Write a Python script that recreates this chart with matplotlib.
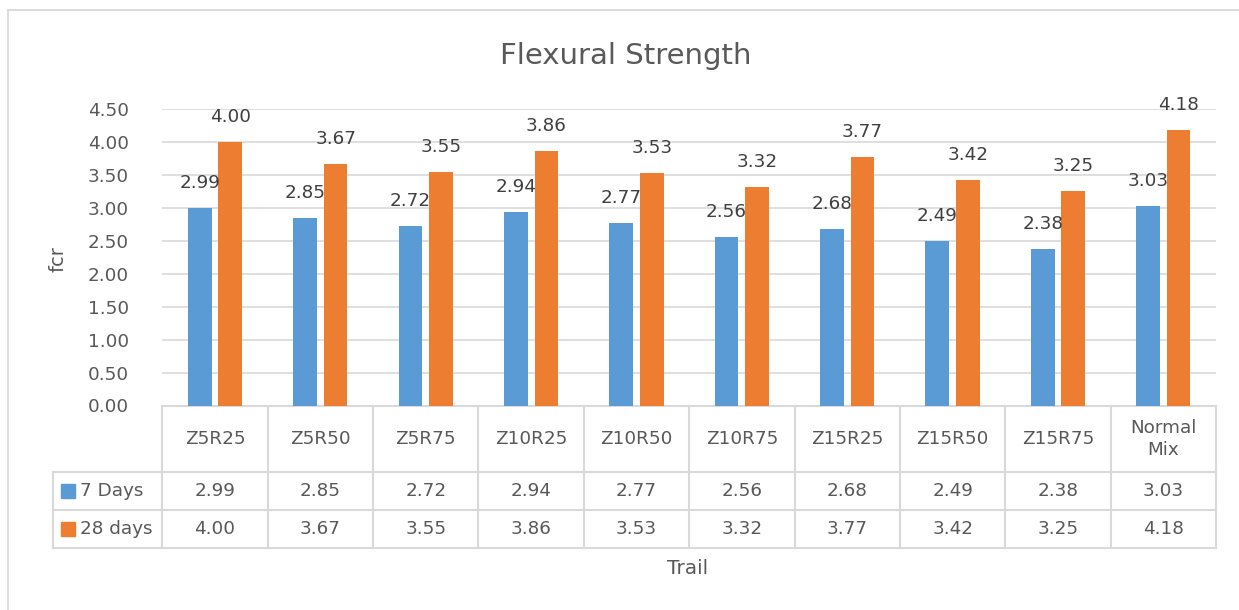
import matplotlib
matplotlib.use("Agg")
from matplotlib import pyplot as plt
from matplotlib import transforms
from matplotlib.lines import Line2D
import numpy as np

plt.rcParams['font.family'] = ['DejaVu Sans']

trails = ["Z5R25", "Z5R50", "Z5R75", "Z10R25", "Z10R50", "Z10R75",
          "Z15R25", "Z15R50", "Z15R75", "Normal\nMix"]
days7 = [2.99, 2.85, 2.72, 2.94, 2.77, 2.56, 2.68, 2.49, 2.38, 3.03]
days28 = [4.00, 3.67, 3.55, 3.86, 3.53, 3.32, 3.77, 3.42, 3.25, 4.18]
series_names = ["7 Days", "28 days"]
yticks = [0, 0.5, 1, 1.5, 2, 2.5, 3, 3.5, 4, 4.5]

blue = "#5B9BD5"
orange = "#ED7D31"
txt = "#595959"
lbl = "#404040"
grid = "#D9D9D9"
fs = 13.2

W, H = 1239, 610
fig = plt.figure(figsize=(W / 100, H / 100), dpi=100)

# chart frame, only its left and top edge are inside the crop
fig.lines.append(Line2D([8 / W, 8 / W], [0, 1 - 10 / H], transform=fig.transFigure, color=grid, lw=1.3))
fig.lines.append(Line2D([8 / W, 1], [1 - 10 / H, 1 - 10 / H], transform=fig.transFigure, color=grid, lw=1.3))

left, right, top, bottom = 162.3, 1216, 109, 405.5
ax = fig.add_axes([left / W, 1 - bottom / H, (right - left) / W, (bottom - top) / H])

x = np.arange(len(trails))
w = 0.225
off = 0.145
ax.bar(x - off, days7, w, color=blue, zorder=3)
ax.bar(x + off, days28, w, color=orange, zorder=3)

for xi, v in zip(x - off, days7):
    ax.annotate(f"{v:.2f}", (xi, v), xytext=(0, 18), textcoords="offset points",
                ha="center", va="center", fontsize=fs, color=lbl, zorder=4)
for xi, v in zip(x + off, days28):
    ax.annotate(f"{v:.2f}", (xi, v), xytext=(0, 18), textcoords="offset points",
                ha="center", va="center", fontsize=fs, color=lbl, zorder=4)

ax.set_xlim(-0.5, len(trails) - 0.5)
ax.set_ylim(0, 4.5)
ax.set_yticks(yticks)
ax.set_yticklabels([f"{t:.2f}" for t in yticks])
ax.tick_params(axis="y", length=0, pad=24, labelsize=fs, labelcolor=txt)
ax.set_xticks([])
ax.yaxis.grid(True, color=grid, lw=1.2, zorder=0)
for s in ax.spines.values():
    s.set_visible(False)

# data table under the plot
tr = transforms.blended_transform_factory(ax.transData, ax.transAxes)
ph = bottom - top


def ay(py):
    return (bottom - py) / ph


y_head = ay(472)
y_r1 = ay(510)
y_r2 = ay(548.3)
x_leg = -0.5 - (left - 53) / 105.4
lc = dict(color=grid, lw=1.5, transform=tr, clip_on=False)

ax.plot([-0.5, len(trails) - 0.5], [0, 0], **lc)
for yy in (y_head, y_r1, y_r2):
    ax.plot([x_leg, len(trails) - 0.5], [yy, yy], **lc)
for k in range(len(trails) + 1):
    ax.plot([k - 0.5, k - 0.5], [0, y_r2], **lc)
ax.plot([x_leg, x_leg], [y_head, y_r2], **lc)

for xi, name in zip(x, trails):
    ax.text(xi, y_head / 2, name, transform=tr, ha="center", va="center",
            fontsize=fs, color=txt, linespacing=1.3)
for xi, v in zip(x, days7):
    ax.text(xi, (y_head + y_r1) / 2, f"{v:.2f}", transform=tr, ha="center", va="center",
            fontsize=fs, color=txt)
for xi, v in zip(x, days28):
    ax.text(xi, (y_r1 + y_r2) / 2, f"{v:.2f}", transform=tr, ha="center", va="center",
            fontsize=fs, color=txt)

sq_x = x_leg + 15 / 105.4
tx_x = x_leg + 27 / 105.4
for yy, name, col in ((y_head + y_r1) / 2, series_names[0], blue), ((y_r1 + y_r2) / 2, series_names[1], orange):
    ax.plot([sq_x], [yy], marker="s", ms=10, color=col, transform=tr, clip_on=False)
    ax.text(tx_x, yy, name, transform=tr, ha="left", va="center", fontsize=fs, color=txt)

fig.text(626 / W, 1 - 56 / H, "Flexural Strength", ha="center", va="center",
         fontsize=21, color=txt)
fig.text(687.5 / W, 1 - 569 / H, "Trail", ha="center", va="center",
         fontsize=14.5, color=txt)
fig.text(57.5 / W, 1 - 259 / H, "fcr", ha="center", va="center", rotation=90,
         fontsize=14, color=txt)

fig.savefig("out.png", dpi=100)
